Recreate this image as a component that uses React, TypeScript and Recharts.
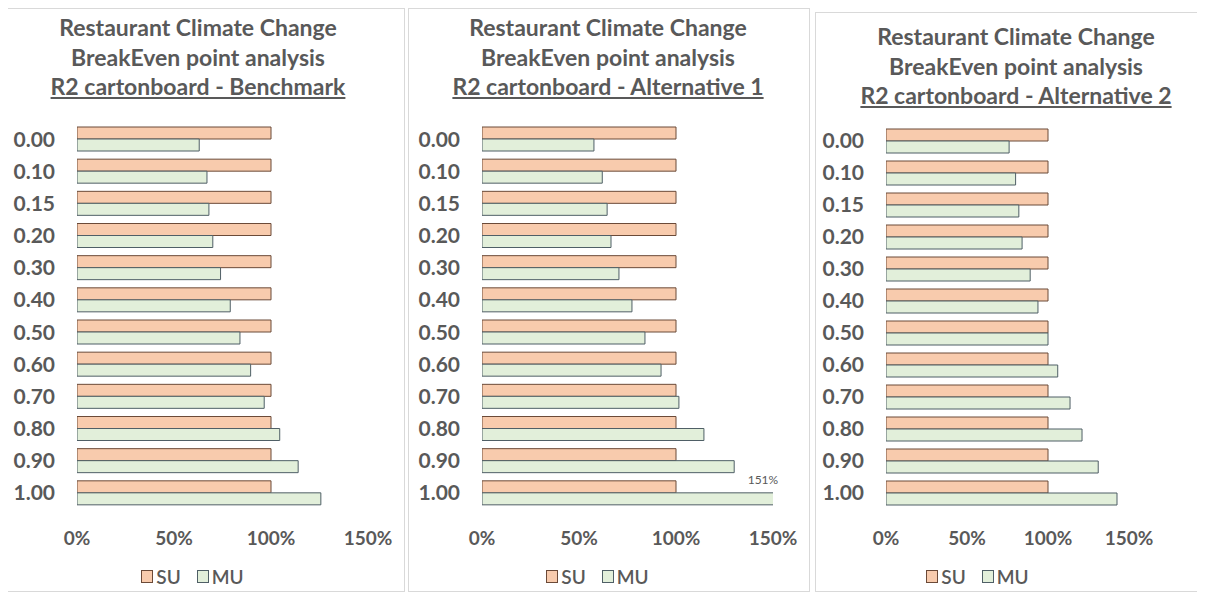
import React from 'react';
import { BarChart, Bar, XAxis, YAxis, Legend, LabelList } from 'recharts';

// ---------------------------------------------------------------------------
// Data (values in % of the SU reference)
// ---------------------------------------------------------------------------

const CATEGORIES = ['0.00', '0.10', '0.15', '0.20', '0.30', '0.40', '0.50', '0.60', '0.70', '0.80', '0.90', '1.00'];

const SU_VALUES = [100, 100, 100, 100, 100, 100, 100, 100, 100, 100, 100, 100];

const BENCHMARK_MU = [63, 67, 68, 70, 74, 79, 84, 89.5, 96.5, 104.5, 114, 125.7];
const ALT1_MU = [57.7, 62, 64.5, 66.5, 70.6, 77.3, 84, 92.3, 101.5, 114.4, 130, 151];
const ALT2_MU = [76, 80, 82, 84, 89, 93.8, 100, 106, 113.6, 121, 131, 142.6];

const X_TICKS = [0, 50, 100, 150];
const LEGEND_ORDER = ['SU', 'MU'];

const TITLE_LINE_1 = 'Restaurant Climate Change';
const TITLE_LINE_2 = 'BreakEven point analysis';

// ---------------------------------------------------------------------------
// Styling
// ---------------------------------------------------------------------------

const FONT = 'Lato, "Open Sans", sans-serif';
const TEXT = '#595959';
const SU_FILL = '#f8cbad';
const SU_STROKE = '#6b4a38';
const MU_FILL = '#e2efda';
const MU_STROKE = '#4f5f66';

interface PanelSpec {
  subtitle: string;
  mu: number[];
  labelIndex: number | null;
  left: number;
  top: number;
  width: number;
  height: number;
  titleTop: number;
  titleShift: number;
  margin: { top: number; right: number; bottom: number; left: number };
}

function makeRows(mu: number[]) {
  return CATEGORIES.map((c, i) => ({ cat: c, SU: SU_VALUES[i], MU: mu[i] }));
}

function LegendBox({ payload }: any) {
  if (!payload) return null;
  const items = [...payload].sort(
    (a: any, b: any) => LEGEND_ORDER.indexOf(a.value) - LEGEND_ORDER.indexOf(b.value),
  );
  return (
    <div
      style={{
        display: 'flex',
        justifyContent: 'center',
        alignItems: 'center',
        height: 24,
        fontFamily: FONT,
        fontSize: 19,
        fontWeight: 600,
        color: TEXT,
      }}
    >
      {items.map((p: any) => (
        <span key={p.value} style={{ display: 'flex', alignItems: 'center', margin: '0 8px' }}>
          <span
            style={{
              display: 'inline-block',
              width: 10,
              height: 11,
              background: p.value === 'SU' ? SU_FILL : MU_FILL,
              border: `1px solid ${p.value === 'SU' ? SU_STROKE : MU_STROKE}`,
              marginRight: 3,
            }}
          />
          {p.value}
        </span>
      ))}
    </div>
  );
}

function Panel({ spec }: { spec: PanelSpec }) {
  const rows = makeRows(spec.mu);
  const innerW = spec.width - 2;
  const innerH = spec.height - 2;

  const renderLabel = (props: any) => {
    const { x, y, width, index, value } = props;
    if (spec.labelIndex === null || index !== spec.labelIndex) return null;
    return (
      <text
        x={x + width - 12}
        y={y - 9}
        textAnchor="middle"
        fontFamily={FONT}
        fontSize={12}
        fill={TEXT}
      >
        {`${Math.round(value)}%`}
      </text>
    );
  };

  return (
    <div
      style={{
        position: 'absolute',
        left: spec.left,
        top: spec.top,
        width: spec.width,
        height: spec.height,
        boxSizing: 'border-box',
        border: '1px solid #d9d9d9',
        background: '#fff',
      }}
    >
      <div
        style={{
          position: 'absolute',
          top: spec.titleTop,
          left: spec.titleShift,
          width: innerW,
          textAlign: 'center',
          fontFamily: FONT,
          fontWeight: 700,
          fontSize: 23,
          lineHeight: '29.5px',
          color: TEXT,
        }}
      >
        <div>{TITLE_LINE_1}</div>
        <div>{TITLE_LINE_2}</div>
        <div style={{ textDecoration: 'underline' }}>{spec.subtitle}</div>
      </div>
      <div style={{ position: 'absolute', left: 0, top: 0 }}>
        <BarChart
          width={innerW}
          height={innerH}
          data={rows}
          layout="vertical"
          margin={spec.margin}
          barGap={0}
        >
          <XAxis
            type="number"
            domain={[0, 150]}
            ticks={X_TICKS}
            allowDataOverflow
            tickFormatter={(v: number) => `${v}%`}
            axisLine={false}
            tickLine={false}
            tickSize={0}
            tickMargin={23}
            height={55}
            tick={{ fill: TEXT, fontSize: 19, fontWeight: 700, fontFamily: FONT }}
          />
          <YAxis
            type="category"
            dataKey="cat"
            width={60}
            axisLine={false}
            tickLine={false}
            tickSize={0}
            tickMargin={22}
            tick={{ fill: TEXT, fontSize: 21, fontWeight: 700, fontFamily: FONT }}
          />
          <Legend verticalAlign="bottom" content={<LegendBox />} />
          <Bar
            dataKey="SU"
            name="SU"
            fill={SU_FILL}
            stroke={SU_STROKE}
            strokeWidth={1}
            barSize={12}
            isAnimationActive={false}
          />
          <Bar
            dataKey="MU"
            name="MU"
            fill={MU_FILL}
            stroke={MU_STROKE}
            strokeWidth={1}
            barSize={12}
            isAnimationActive={false}
          >
            <LabelList dataKey="MU" content={renderLabel} />
          </Bar>
        </BarChart>
      </div>
    </div>
  );
}

const PANELS: PanelSpec[] = [
  {
    subtitle: 'R2 cartonboard - Benchmark',
    mu: BENCHMARK_MU,
    labelIndex: null,
    left: 7,
    top: 8,
    width: 398,
    height: 584,
    titleTop: 4,
    titleShift: -8,
    margin: { top: 114, right: 36, bottom: 3, left: 9 },
  },
  {
    subtitle: 'R2 cartonboard - Alternative 1',
    mu: ALT1_MU,
    labelIndex: 11,
    left: 408,
    top: 8,
    width: 402,
    height: 584,
    titleTop: 4,
    titleShift: -1,
    margin: { top: 114, right: 36, bottom: 3, left: 13 },
  },
  {
    subtitle: 'R2 cartonboard - Alternative 2',
    mu: ALT2_MU,
    labelIndex: null,
    left: 815,
    top: 12,
    width: 402,
    height: 580,
    titleTop: 9,
    titleShift: 0,
    margin: { top: 112, right: 87, bottom: 3, left: 10 },
  },
];

export default function App() {
  return (
    <div
      style={{
        position: 'relative',
        left: -8,
        top: -8,
        width: 1205,
        height: 594,
        overflow: 'hidden',
        background: '#fff',
      }}
    >
      {PANELS.map((p) => (
        <Panel key={p.subtitle} spec={p} />
      ))}
    </div>
  );
}
